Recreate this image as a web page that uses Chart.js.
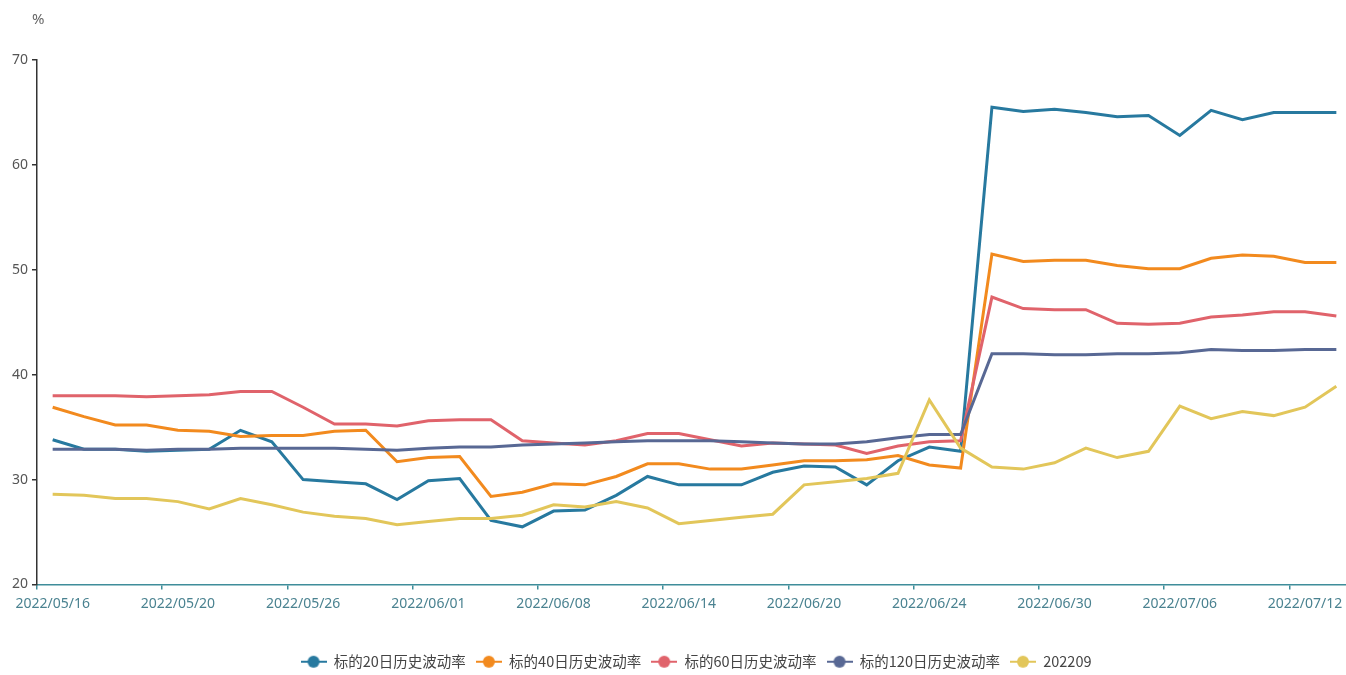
<!DOCTYPE html>
<html>
<head>
<meta charset="utf-8">
<script src="https://cdn.jsdelivr.net/npm/chart.js@4/dist/chart.umd.min.js"></script>
<style>
  html, body { margin: 0; padding: 0; background: #fff; overflow: hidden; }
  #volChart { display: block; }
</style>
</head>
<body>
<canvas id="volChart" width="1392" height="675"></canvas>
<script>
// trading days, every 4th one gets a label
const dates = [
    '2022/05/16', '2022/05/17', '2022/05/18', '2022/05/19', '2022/05/20',
    '2022/05/23', '2022/05/24', '2022/05/25', '2022/05/26', '2022/05/27',
    '2022/05/30', '2022/05/31', '2022/06/01', '2022/06/02', '2022/06/06',
    '2022/06/07', '2022/06/08', '2022/06/09', '2022/06/10', '2022/06/13',
    '2022/06/14', '2022/06/15', '2022/06/16', '2022/06/17', '2022/06/20',
    '2022/06/21', '2022/06/22', '2022/06/23', '2022/06/24', '2022/06/27',
    '2022/06/28', '2022/06/29', '2022/06/30', '2022/07/01', '2022/07/04',
    '2022/07/05', '2022/07/06', '2022/07/07', '2022/07/08', '2022/07/11',
    '2022/07/12', '2022/07/13'
];

const vol20 = [33.8, 32.9, 32.9, 32.7, 32.8, 32.9, 34.7, 33.6, 30.0, 29.8,
    29.6, 28.1, 29.9, 30.1, 26.1, 25.5, 27.0, 27.1, 28.5, 30.3,
    29.5, 29.5, 29.5, 30.7, 31.3, 31.2, 29.5, 31.8, 33.1, 32.7,
    65.5, 65.1, 65.3, 65.0, 64.6, 64.7, 62.8, 65.2, 64.3, 65.0,
    65.0, 65.0];

const vol40 = [36.9, 36.0, 35.2, 35.2, 34.7, 34.6, 34.1, 34.2, 34.2, 34.6,
    34.7, 31.7, 32.1, 32.2, 28.4, 28.8, 29.6, 29.5, 30.3, 31.5,
    31.5, 31.0, 31.0, 31.4, 31.8, 31.8, 31.9, 32.3, 31.4, 31.1,
    51.5, 50.8, 50.9, 50.9, 50.4, 50.1, 50.1, 51.1, 51.4, 51.3,
    50.7, 50.7];

const vol60 = [38.0, 38.0, 38.0, 37.9, 38.0, 38.1, 38.4, 38.4, 36.9, 35.3,
    35.3, 35.1, 35.6, 35.7, 35.7, 33.7, 33.5, 33.3, 33.7, 34.4,
    34.4, 33.8, 33.2, 33.5, 33.4, 33.3, 32.5, 33.2, 33.6, 33.7,
    47.4, 46.3, 46.2, 46.2, 44.9, 44.8, 44.9, 45.5, 45.7, 46.0,
    46.0, 45.6];

const vol120 = [32.9, 32.9, 32.9, 32.8, 32.9, 32.9, 33.0, 33.0, 33.0, 33.0,
    32.9, 32.8, 33.0, 33.1, 33.1, 33.3, 33.4, 33.5, 33.6, 33.7,
    33.7, 33.7, 33.6, 33.5, 33.4, 33.4, 33.6, 34.0, 34.3, 34.3,
    42.0, 42.0, 41.9, 41.9, 42.0, 42.0, 42.1, 42.4, 42.3, 42.3,
    42.4, 42.4];

const iv202209 = [28.6, 28.5, 28.2, 28.2, 27.9, 27.2, 28.2, 27.6, 26.9, 26.5,
    26.3, 25.7, 26.0, 26.3, 26.3, 26.6, 27.6, 27.4, 27.9, 27.3,
    25.8, 26.1, 26.4, 26.7, 29.5, 29.8, 30.1, 30.6, 37.6, 33.0,
    31.2, 31.0, 31.6, 33.0, 32.1, 32.7, 37.0, 35.8, 36.5, 36.1,
    36.9, 38.9];

const seriesNames = ['标的20日历史波动率', '标的40日历史波动率', '标的60日历史波动率', '标的120日历史波动率', '202209'];
const seriesColors = ['#27799f', '#f28a1e', '#e0636b', '#586894', '#e2c65a'];
const yTicks = [20, 30, 40, 50, 60, 70];
const labelEvery = 4;

// legend icon: short line with a dot on it, like the original
function makeIcon(color) {
    const c = document.createElement('canvas');
    c.width = 26;
    c.height = 14;
    const g = c.getContext('2d');
    g.strokeStyle = color;
    g.lineWidth = 2;
    g.beginPath();
    g.moveTo(0, 7);
    g.lineTo(26, 7);
    g.stroke();
    g.fillStyle = color;
    g.beginPath();
    g.arc(13, 7, 6, 0, Math.PI * 2);
    g.fill();
    return c;
}

const allSeries = [vol20, vol40, vol60, vol120, iv202209];
const datasets = allSeries.map((values, i) => ({
    label: seriesNames[i],
    data: values,
    borderColor: seriesColors[i],
    backgroundColor: seriesColors[i],
    borderWidth: 3,
    pointRadius: 0,
    pointHoverRadius: 0,
    pointStyle: makeIcon(seriesColors[i]),
    tension: 0,
    fill: false,
    order: allSeries.length - i
}));

const percentSign = {
    id: 'percentSign',
    afterDraw(chart) {
        const ctx = chart.ctx;
        ctx.save();
        ctx.fillStyle = '#666';
        ctx.font = '15px "Noto Sans"';
        ctx.textAlign = 'left';
        ctx.textBaseline = 'middle';
        ctx.fillText('%', 32, 20);
        ctx.restore();
    }
};

// legend is centred on the whole canvas, not on the padded box
const legendShift = {
    id: 'legendShift',
    afterLayout(chart) {
        const lg = chart.legend;
        if (!lg) return;
        const dx = 20;
        lg.left += dx;
        lg.right += dx;
        (lg.legendHitBoxes || []).forEach(b => { b.left += dx; });
    }
};

const axisTeal = '#3f8d9a';

const ctx = document.getElementById('volChart').getContext('2d');
const chart = new Chart(ctx, {
    type: 'line',
    data: {
        labels: dates,
        datasets: datasets
    },
    options: {
        responsive: false,
        animation: false,
        layout: {
            padding: { top: 60, left: 0, right: 40, bottom: -4 }
        },
        scales: {
            x: {
                type: 'category',
                offset: true,
                afterFit(scale) { scale.height = 60; },
                border: { display: true, color: axisTeal, width: 1.5 },
                grid: {
                    display: true,
                    offset: true,
                    drawOnChartArea: false,
                    drawTicks: true,
                    tickLength: 5,
                    color: c => (c.index % labelEvery === 0 ? axisTeal : 'rgba(0,0,0,0)'),
                    lineWidth: 1.5
                },
                ticks: {
                    autoSkip: false,
                    maxRotation: 0,
                    minRotation: 0,
                    padding: 6,
                    color: '#4a8290',
                    font: { family: '"Noto Sans"', size: 14 },
                    callback(value, index) {
                        return index % labelEvery === 0 ? dates[index] : '';
                    }
                }
            },
            y: {
                min: yTicks[0],
                max: yTicks[yTicks.length - 1],
                afterFit(scale) { scale.width = 37; },
                afterBuildTicks(scale) {
                    scale.ticks = yTicks.map(v => ({ value: v }));
                },
                border: { display: true, color: '#333', width: 1.5 },
                grid: {
                    display: true,
                    drawOnChartArea: false,
                    drawTicks: true,
                    tickLength: 5,
                    color: '#333',
                    lineWidth: 1.5
                },
                ticks: {
                    padding: 4,
                    color: '#555',
                    font: { family: '"Noto Sans"', size: 14 }
                }
            }
        },
        plugins: {
            tooltip: { enabled: false },
            legend: {
                display: true,
                position: 'bottom',
                labels: {
                    usePointStyle: true,
                    pointStyleWidth: 26,
                    padding: 10,
                    color: '#444',
                    font: { family: '"Noto Sans CJK SC"', size: 14.5 },
                    sort: (a, b) => a.datasetIndex - b.datasetIndex
                }
            }
        }
    },
    plugins: [percentSign, legendShift]
});
</script>
</body>
</html>
